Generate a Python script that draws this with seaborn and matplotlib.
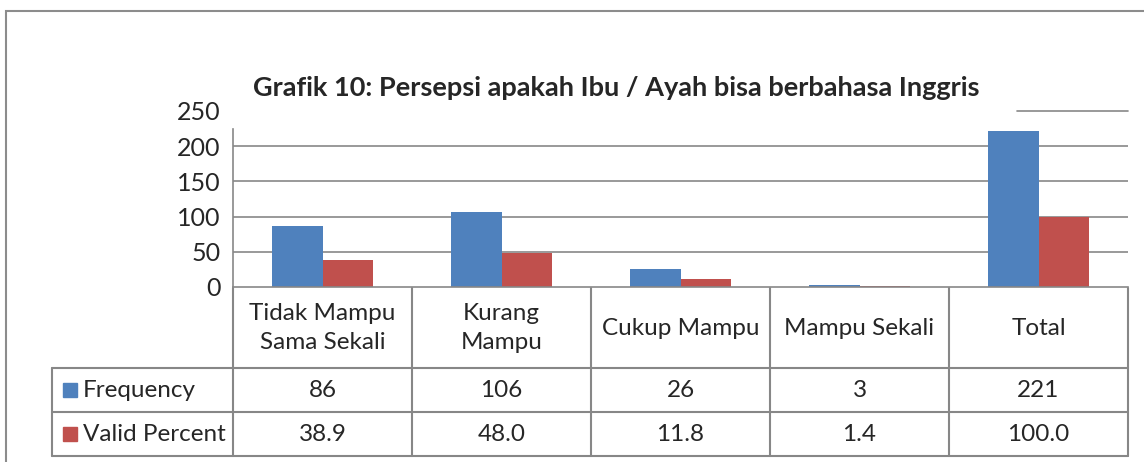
import pandas as pd
import numpy as np
import matplotlib.pyplot as plt
import seaborn as sns
from matplotlib.patches import Rectangle

# DATA
kategori = ['Tidak Mampu\nSama Sekali', 'Kurang\nMampu', 'Cukup Mampu', 'Mampu Sekali', 'Total']
frequency = [86, 106, 26, 3, 221]
valid_percent = [38.9, 48.0, 11.8, 1.4, 100.0]

df = pd.DataFrame({
    'kategori': kategori * 2,
    'seri': ['Frequency'] * 5 + ['Valid Percent'] * 5,
    'nilai': frequency + valid_percent,
})

warna = {'Frequency': '#4F81BD', 'Valid Percent': '#C0504D'}
abu = '#878787'
fs = 17.5

sns.set_style('white')
plt.rcParams['font.family'] = ['Lato', 'DejaVu Sans']

W, H = 1144, 462
fig = plt.figure(figsize=(W / 100, H / 100), dpi=100)

def fx(px):
    return px / W

def fy(py):
    return 1 - py / H

# OUTER FRAME
fig.add_artist(Rectangle((fx(6), -0.2), 1.5, fy(11) + 0.2, transform=fig.transFigure,
                         fill=False, edgecolor='#8c8c8c', lw=1.5))

# BAR CHART
ax = fig.add_axes([fx(233), fy(287), fx(1128) - fx(233), fy(111) - fy(287)])
sns.barplot(data=df, x='kategori', y='nilai', hue='seri', palette=warna, width=0.565,
            saturation=1, linewidth=0, legend=False, ax=ax, zorder=2)
ax.set_ylim(0, 250)
ax.set_yticks(range(0, 251, 50))
ax.set_xticks([])
ax.set_xlabel('')
ax.set_ylabel('')
ax.tick_params(axis='y', length=0, pad=9, labelsize=18)
for s in ['top', 'right']:
    ax.spines[s].set_visible(False)
ax.spines['left'].set_bounds(0, 225)
ax.spines['left'].set_color(abu)
ax.spines['bottom'].set_color(abu)
ax.spines['left'].set_linewidth(1.2)
ax.spines['bottom'].set_linewidth(1.2)
for v in [50, 100, 150, 200]:
    ax.axhline(v, color=abu, lw=1.2, zorder=0.5)
ax.axhline(250, xmin=(1017 - 233) / 895, color=abu, lw=1.2, zorder=0.5, clip_on=False)

fig.text(fx(616), fy(88), 'Grafik 10: Persepsi apakah Ibu / Ayah bisa berbahasa Inggris',
         ha='center', va='center', fontsize=19.5, fontweight='bold')

# DATA TABLE
tax = fig.add_axes([fx(233), fy(456), fx(1128) - fx(233), fy(288) - fy(456)])
x0, x1 = ax.get_xlim()
tax.set_xlim(x0, x1)
tax.set_ylim(0, 3.82)
tax.axis('off')
xl = x0 - 1.011
kw = dict(color=abu, lw=1.5, clip_on=False)
for y in [0, 1, 2]:
    tax.plot([xl, x1], [y, y], **kw)
tax.plot([xl, xl], [0, 2], **kw)
for i in range(6):
    xv = x0 + i
    tax.plot([xv, xv], [0, 3.82], **kw)

for i, k in enumerate(kategori):
    tax.text(i, 2.91, k, ha='center', va='center', fontsize=fs, linespacing=1.45)
    tax.text(i, 1.5, f'{frequency[i]}', ha='center', va='center', fontsize=fs)
    tax.text(i, 0.5, f'{valid_percent[i]:.1f}', ha='center', va='center', fontsize=fs)

for yc, seri in [(1.5, 'Frequency'), (0.5, 'Valid Percent')]:
    tax.plot([xl + 0.098], [yc], marker='s', ms=10.5, color=warna[seri], clip_on=False)
    tax.text(xl + 0.173, yc, seri, ha='left', va='center', fontsize=fs)

plt.savefig('out.png', dpi=100)
plt.close()
